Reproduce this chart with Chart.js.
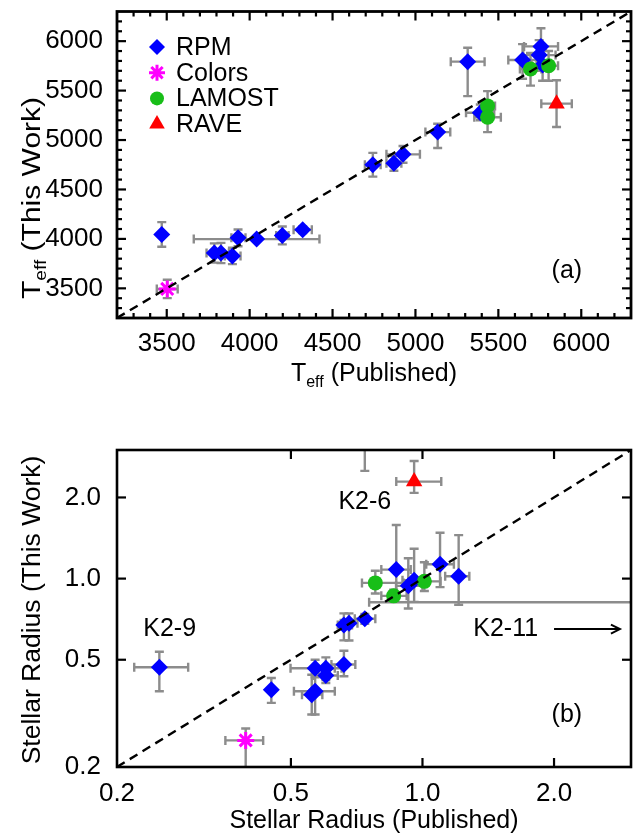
<!DOCTYPE html>
<html><head><meta charset="utf-8">
<script src="https://cdn.jsdelivr.net/npm/chart.js@4.4.0/dist/chart.umd.min.js"></script>
<style>
html,body{margin:0;padding:0;background:#fff;}
#wrap{position:relative;width:643px;height:835px;background:#fff;}
canvas{position:absolute;left:0;}
#ca{top:0;} #cb{top:420px;}
</style></head><body>
<div id="wrap"><canvas id="ca" width="643" height="420"></canvas><canvas id="cb" width="643" height="415"></canvas></div>
<script>
// ================= DATA =================
// Panel (a): effective temperature (K)
const tempTicks = [3500, 4000, 4500, 5000, 5500, 6000];
const tempRange = [3200, 6300];

const rpmTeffPub    = [3470,3787,3827,3896,3930,4042,4197,4320,4743,4870,4925,5134,5315,5391,5646,5757,5746,5767];
const rpmTeffThis   = [4045,3857,3857,3828,4011,3998,4034,4093,4750,4766,4855,5080,5793,5276,5809,5947,5859,5760];
const rpmTeffPubLo  = [3470,3740,3780,3850,3890,3663,4160,4265,4695,4825,4825,5060,5213,5305,5560,5655,5650,5700];
const rpmTeffPubHi  = [3470,3835,3875,3945,3975,4421,4235,4375,4790,4915,5027,5210,5417,5475,5730,5860,5845,5830];
const rpmTeffThisLo = [3920,3760,3755,3745,3925,3998,3945,4060,4630,4690,4770,4920,5444,5200,5620,5760,5700,5600];
const rpmTeffThisHi = [4170,3955,3960,3910,4095,3998,4125,4125,4870,4840,4940,5165,5933,5360,5970,6130,6010,5920];

const colTeffPub = [3503], colTeffThis = [3494];
const colTeffPubLo = [3440], colTeffPubHi = [3566], colTeffThisLo = [3401], colTeffThisHi = [3587];

const lamTeffPub    = [5435,5435,5694,5803];
const lamTeffThis   = [5345,5231,5718,5751];
const lamTeffPubLo  = [5390,5355,5630,5740];
const lamTeffPubHi  = [5480,5515,5760,5860];
const lamTeffThisLo = [5200,5080,5550,5600];
const lamTeffThisHi = [5495,5380,5880,5900];

const raveTeffPub = [5851], raveTeffThis = [5368];
const raveTeffPubLo = [5759], raveTeffPubHi = [5943], raveTeffThisLo = [5132], raveTeffThisHi = [5604];

// Panel (b): stellar radius (solar radii), log axes
const radiusTicks = [0.2, 0.5, 1.0, 2.0];
const radiusRange = [0.2, 3.0];

const rpmRadPub    = [0.738,0.871,1.097,1.21,0.928,0.957,0.738,0.679,0.661,0.661,0.568,0.601,0.601,0.568,0.558,0.451,0.250,4.5];
const rpmRadThis   = [3.6,1.08,1.13,1.02,0.94,0.987,0.710,0.683,0.673,0.480,0.465,0.465,0.437,0.382,0.371,0.387,0.469,0.817];
const rpmRadPubLo  = [0.738,0.805,1.02,1.127,0.87,0.90,0.70,0.65,0.64,0.619,0.499,0.57,0.565,0.508,0.53,0.451,0.219,0.755];
const rpmRadPubHi  = [0.738,0.94,1.18,1.28,1.0,1.02,0.78,0.71,0.69,0.702,0.653,0.63,0.64,0.630,0.59,0.451,0.291,6.0];
const rpmRadThisLo = [2.51,0.855,0.93,0.80,0.775,0.82,0.68,0.589,0.59,0.434,0.43,0.42,0.41,0.313,0.313,0.346,0.382,0.817];
const rpmRadThisHi = [4.5,1.58,1.48,1.45,1.19,1.29,0.74,0.743,0.743,0.540,0.50,0.51,0.47,0.447,0.44,0.428,0.535,0.817];

const colRadPub = [0.394], colRadThis = [0.251];
const colRadPubLo = [0.354], colRadPubHi = [0.432], colRadThisLo = [0.18], colRadThisHi = [0.278];

const lamRadPub    = [0.780,1.01,0.859];
const lamRadThis   = [0.964,0.977,0.863];
const lamRadPubLo  = [0.727,0.93,0.805];
const lamRadPubHi  = [0.905,1.10,0.92];
const lamRadThisLo = [0.88,0.90,0.82];
const lamRadThisHi = [1.07,1.15,0.91];

const raveRadPub = [0.957], raveRadThis = [2.29];
const raveRadPubLo = [0.871], raveRadPubHi = [1.104], raveRadThisLo = [2.08], raveRadThisHi = [2.73];

const seriesNames = ['RPM', 'Colors', 'LAMOST', 'RAVE'];
const panelTags = ['(a)', '(b)'];
const starNames = ['K2-6', 'K2-9', 'K2-11'];

// ================= STYLE / LAYOUT =================
const FONT = '"Liberation Sans", Arial, Helvetica, sans-serif';
const FS = 25;
const BLUE = '#0000FF', MAG = '#FF00FF', GREEN = '#18BE18', RED = '#FF0000', GRAY = '#8C8C8C';
const styles = {
  RPM:    {pointStyle: 'rectRot', radius: 8.5, backgroundColor: BLUE, borderColor: BLUE, borderWidth: 0, order: 4},
  Colors: {pointStyle: 'star', radius: 8.5, backgroundColor: MAG, borderColor: MAG, borderWidth: 3, order: 3},
  LAMOST: {pointStyle: 'circle', radius: 7.5, backgroundColor: GREEN, borderColor: GREEN, borderWidth: 0, order: 2},
  RAVE:   {pointStyle: 'triangle', radius: 9.5, backgroundColor: RED, borderColor: RED, borderWidth: 0, order: 1}
};

function pts(xs, ys) { return xs.map((v, i) => ({x: v, y: ys[i]})); }
function ds(name, xs, ys, xlo, xhi, ylo, yhi) {
  const s = styles[name];
  return {
    label: name, data: pts(xs, ys), clip: 0,
    pointStyle: s.pointStyle, pointRadius: s.radius, pointHoverRadius: s.radius,
    pointBackgroundColor: s.backgroundColor, pointBorderColor: s.borderColor,
    pointBorderWidth: s.borderWidth, pointHoverBorderWidth: s.borderWidth,
    order: s.order, err: {xlo, xhi, ylo, yhi}
  };
}
function identity(range) {
  return {label: 'one-to-one', data: [{x: range[0], y: range[0]}, {x: range[1], y: range[1]}],
    showLine: true, borderColor: '#000', borderWidth: 2.4, borderDash: [9, 6], pointRadius: 0,
    pointHoverRadius: 0, order: 0, clip: 0};
}
// keep the chart area exactly where the layout padding puts it
function noPad(s) { s.paddingTop = 0; s.paddingBottom = 0; s.paddingLeft = 0; s.paddingRight = 0; }

// ================= PLUGINS =================
const errorBars = {
  id: 'errorBars',
  beforeDatasetsDraw(chart) {
    const {ctx, chartArea: a, scales: {x, y}} = chart;
    ctx.save();
    ctx.beginPath(); ctx.rect(a.left, a.top, a.right - a.left, a.bottom - a.top); ctx.clip();
    ctx.strokeStyle = GRAY; ctx.lineWidth = 2.4; ctx.lineCap = 'butt';
    const cap = 4.5;
    chart.data.datasets.forEach(d => {
      if (!d.err) return;
      d.data.forEach((p, i) => {
        const px = x.getPixelForValue(p.x), py = y.getPixelForValue(p.y);
        const x1 = x.getPixelForValue(d.err.xlo[i]), x2 = x.getPixelForValue(d.err.xhi[i]);
        const y1 = y.getPixelForValue(d.err.ylo[i]), y2 = y.getPixelForValue(d.err.yhi[i]);
        ctx.beginPath();
        if (Math.abs(x2 - x1) > 0.5) {
          ctx.moveTo(x1, py); ctx.lineTo(x2, py);
          ctx.moveTo(x1, py - cap); ctx.lineTo(x1, py + cap);
          ctx.moveTo(x2, py - cap); ctx.lineTo(x2, py + cap);
        }
        if (Math.abs(y2 - y1) > 0.5) {
          ctx.moveTo(px, y1); ctx.lineTo(px, y2);
          ctx.moveTo(px - cap, y1); ctx.lineTo(px + cap, y1);
          ctx.moveTo(px - cap, y2); ctx.lineTo(px + cap, y2);
        }
        ctx.stroke();
      });
    });
    ctx.restore();
  }
};

function richText(ctx, parts, x, y, align) {
  const fonts = parts.map(p => (p.sub ? 16 : FS) + 'px ' + FONT);
  const widths = parts.map((p, i) => { ctx.font = fonts[i]; return ctx.measureText(p.t).width; });
  const total = widths.reduce((s, w) => s + w, 0);
  let cx = align === 'center' ? x - total / 2 : x;
  ctx.textAlign = 'left'; ctx.textBaseline = 'alphabetic';
  parts.forEach((p, i) => { ctx.font = fonts[i]; ctx.fillText(p.t, cx, y + (p.sub ? 6 : 0)); cx += widths[i]; });
}

const frame = {
  id: 'frame',
  afterDraw(chart, args, o) {
    const {ctx, chartArea: a, scales: {x, y}} = chart;
    ctx.save();
    ctx.strokeStyle = '#000'; ctx.fillStyle = '#000';
    ctx.lineWidth = 2.2;
    const seg = (x1, y1, x2, y2) => { ctx.beginPath(); ctx.moveTo(x1, y1); ctx.lineTo(x2, y2); ctx.stroke(); };
    x.ticks.forEach(t => {
      const L = o.xMajor.includes(t.value) ? o.major : o.minor;
      const px = x.getPixelForValue(t.value);
      if (px < a.left + 1 || px > a.right - 1) return;
      seg(px, a.bottom, px, a.bottom - L); seg(px, a.top, px, a.top + L);
    });
    y.ticks.forEach(t => {
      const L = o.yMajor.includes(t.value) ? o.major : o.minor;
      const py = y.getPixelForValue(t.value);
      if (py < a.top + 1 || py > a.bottom - 1) return;
      seg(a.left, py, a.left + L, py); seg(a.right, py, a.right - L, py);
    });
    ctx.lineWidth = o.frameWidth;
    ctx.strokeRect(a.left, a.top, a.right - a.left, a.bottom - a.top);
    // axis titles
    ctx.fillStyle = '#000';
    richText(ctx, o.xTitle, (a.left + a.right) / 2, o.xTitleY, 'center');
    ctx.save();
    ctx.translate(o.yTitleX, o.yTitleMid);
    ctx.rotate(-Math.PI / 2);
    ctx.scale(o.yTitleStretch, 1);
    richText(ctx, o.yTitle, 0, 0, 'center');
    ctx.restore();
    // notes in data coordinates
    ctx.font = FS + 'px ' + FONT; ctx.textAlign = 'center'; ctx.textBaseline = 'middle';
    (o.notes || []).forEach(n => ctx.fillText(n.text, x.getPixelForValue(n.x), y.getPixelForValue(n.y)));
    if (o.arrow) {
      const ax1 = x.getPixelForValue(o.arrow.x1), ax2 = x.getPixelForValue(o.arrow.x2), ay = y.getPixelForValue(o.arrow.y);
      ctx.lineWidth = 2;
      seg(ax1, ay, ax2, ay);
      ctx.beginPath(); ctx.moveTo(ax2 - 9, ay - 4.5); ctx.lineTo(ax2, ay); ctx.lineTo(ax2 - 9, ay + 4.5); ctx.stroke();
    }
    // legend
    if (o.legend) {
      const lg = o.legend;
      seriesNames.forEach((nm, i) => {
        const s = styles[nm];
        const yy = lg.y0 + i * lg.dy;
        ctx.fillStyle = s.backgroundColor; ctx.strokeStyle = s.borderColor; ctx.lineWidth = s.borderWidth || 1;
        Chart.helpers.drawPoint(ctx, {pointStyle: s.pointStyle, radius: s.radius - 0.5, rotation: 0, borderWidth: s.borderWidth}, lg.mx, yy);
        ctx.fillStyle = '#000';
        ctx.font = FS + 'px ' + FONT; ctx.textAlign = 'left'; ctx.textBaseline = 'middle';
        ctx.fillText(nm, lg.tx, yy + 1);
      });
    }
    ctx.restore();
  }
};

const tickFont = {family: FONT, size: 26};

// ================= PANEL (a) =================
new Chart(document.getElementById('ca'), {
  type: 'scatter',
  data: {datasets: [
    identity(tempRange),
    ds('RPM', rpmTeffPub, rpmTeffThis, rpmTeffPubLo, rpmTeffPubHi, rpmTeffThisLo, rpmTeffThisHi),
    ds('Colors', colTeffPub, colTeffThis, colTeffPubLo, colTeffPubHi, colTeffThisLo, colTeffThisHi),
    ds('LAMOST', lamTeffPub, lamTeffThis, lamTeffPubLo, lamTeffPubHi, lamTeffThisLo, lamTeffThisHi),
    ds('RAVE', raveTeffPub, raveTeffThis, raveTeffPubLo, raveTeffPubHi, raveTeffThisLo, raveTeffThisHi)
  ]},
  options: {
    responsive: false, animation: false, devicePixelRatio: 1, events: [],
    layout: {padding: {left: 0, right: 12, top: 4, bottom: 0}},
    plugins: {
      legend: {display: false}, tooltip: {enabled: false},
      frame: {
        xMajor: tempTicks, yMajor: tempTicks, major: 9, minor: 5, frameWidth: 2.8,
        xTitle: [{t: 'T'}, {t: 'eff', sub: true}, {t: ' (Published)'}], xTitleY: 381,
        yTitle: [{t: 'T'}, {t: 'eff', sub: true}, {t: ' (This Work)'}], yTitleX: 40, yTitleMid: 198, yTitleStretch: 1.2,
        notes: [{text: panelTags[0], x: 5913, y: 3679}],
        legend: {mx: 157, tx: 176, y0: 47, dy: 25.7}
      }
    },
    scales: {
      x: {type: 'linear', min: tempRange[0], max: tempRange[1],
        grid: {display: false}, border: {display: false},
        ticks: {stepSize: 100, autoSkip: false, maxRotation: 0, padding: 2, color: '#000', font: tickFont,
          callback: v => tempTicks.includes(v) ? String(v) : ''},
        afterFit: s => { s.height = 102; noPad(s); }},
      y: {type: 'linear', min: tempRange[0], max: tempRange[1],
        grid: {display: false}, border: {display: false},
        ticks: {stepSize: 100, autoSkip: false, padding: 6, color: '#000', font: tickFont,
          callback: v => tempTicks.includes(v) ? String(v) : ''},
        afterFit: s => { s.width = 117; noPad(s); }}
    }
  },
  plugins: [errorBars, frame]
});

// ================= PANEL (b) =================
new Chart(document.getElementById('cb'), {
  type: 'scatter',
  data: {datasets: [
    identity(radiusRange),
    ds('RPM', rpmRadPub, rpmRadThis, rpmRadPubLo, rpmRadPubHi, rpmRadThisLo, rpmRadThisHi),
    ds('Colors', colRadPub, colRadThis, colRadPubLo, colRadPubHi, colRadThisLo, colRadThisHi),
    ds('LAMOST', lamRadPub, lamRadThis, lamRadPubLo, lamRadPubHi, lamRadThisLo, lamRadThisHi),
    ds('RAVE', raveRadPub, raveRadThis, raveRadPubLo, raveRadPubHi, raveRadThisLo, raveRadThisHi)
  ]},
  options: {
    responsive: false, animation: false, devicePixelRatio: 1, events: [],
    layout: {padding: {left: 0, right: 12, top: 30, bottom: 0}},
    plugins: {
      legend: {display: false}, tooltip: {enabled: false},
      frame: {
        xMajor: radiusTicks, yMajor: radiusTicks, major: 9, minor: 9, frameWidth: 2.6,
        xTitle: [{t: 'Stellar Radius (Published)'}], xTitleY: 408,
        yTitle: [{t: 'Stellar Radius (This Work)'}], yTitleX: 40, yTitleMid: 190, yTitleStretch: 1.06,
        notes: [
          {text: starNames[0], x: 0.738, y: 1.93},
          {text: starNames[1], x: 0.264, y: 0.649},
          {text: starNames[2], x: 1.55, y: 0.650},
          {text: panelTags[1], x: 2.14, y: 0.311}
        ],
        arrow: {x1: 2.0, x2: 2.83, y: 0.650}
      }
    },
    scales: {
      x: {type: 'logarithmic', min: radiusRange[0], max: radiusRange[1],
        grid: {display: false}, border: {display: false},
        afterBuildTicks: s => { s.ticks = radiusTicks.map(v => ({value: v})); },
        ticks: {autoSkip: false, maxRotation: 0, padding: 3, color: '#000', font: tickFont,
          callback: v => Number(v).toFixed(1)},
        afterFit: s => { s.height = 68; noPad(s); }},
      y: {type: 'logarithmic', min: radiusRange[0], max: radiusRange[1],
        grid: {display: false}, border: {display: false},
        afterBuildTicks: s => { s.ticks = radiusTicks.map(v => ({value: v})); },
        ticks: {autoSkip: false, padding: 8, color: '#000', font: tickFont,
          callback: v => Number(v).toFixed(1)},
        afterFit: s => { s.width = 117; noPad(s); }}
    }
  },
  plugins: [errorBars, frame]
});
</script>
</body></html>
